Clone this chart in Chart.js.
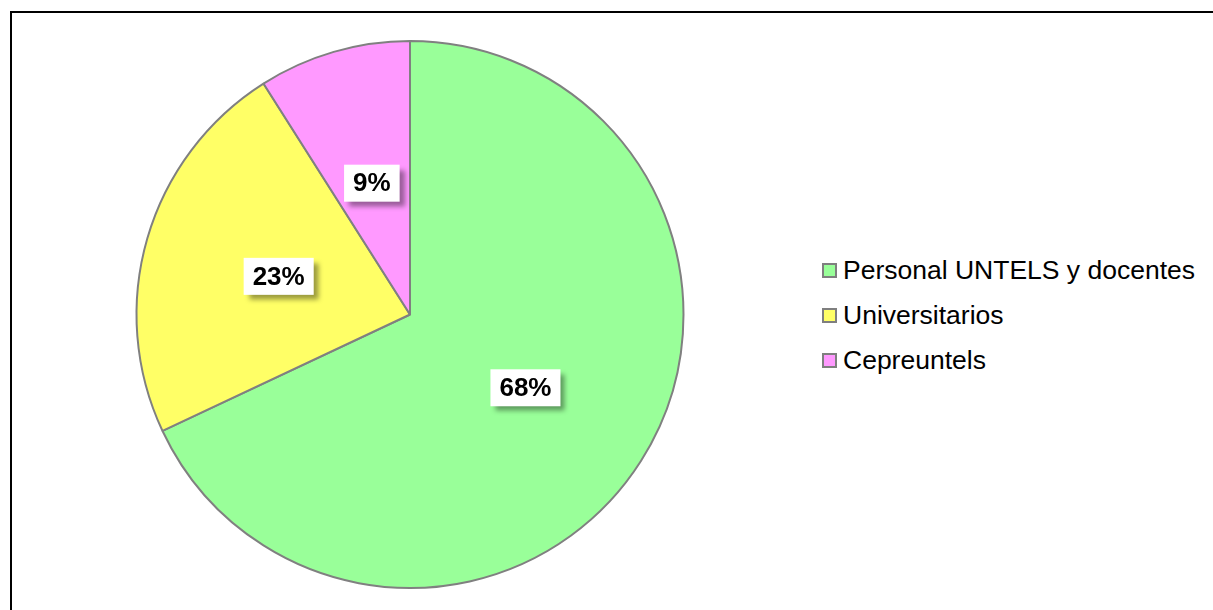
<!DOCTYPE html>
<html>
<head>
<meta charset="utf-8">
<script src="https://cdn.jsdelivr.net/npm/chart.js@4"></script>
<style>
    body { margin: 0; background: #fff; overflow: hidden; width: 1213px; height: 610px; position: relative; }
    #frame { position: absolute; left: 10px; top: 11px; width: 1300px; height: 700px; border: 2px solid #000; }
    #chart-box { position: absolute; left: 0; top: 0; width: 820px; height: 610px; }
    #legend { position: absolute; left: 822px; top: 248px; font-family: "Liberation Sans", Arial, sans-serif; font-size: 26.5px; color: #000; }
    #legend .row { height: 45px; line-height: 45px; display: flex; align-items: center; }
    #legend .sw { width: 11px; height: 11px; border: 2px solid #7f7f7f; margin-right: 6px; }
</style>
</head>
<body>
<div id="frame"></div>
<div id="chart-box"><canvas id="pie-chart"></canvas></div>
<div id="legend"></div>

<script>
// Chart data
const categories = ['Personal UNTELS y docentes', 'Universitarios', 'Cepreuntels'];
const shares = [68, 23, 9];
const sliceColors = ['#99FF99', '#FFFF66', '#FF99FF'];

// white boxed percent labels with a soft shadow
const percentLabels = {
    id: 'percentLabels',
    afterDatasetsDraw(chart) {
        const ctx = chart.ctx;
        const meta = chart.getDatasetMeta(0);
        ctx.save();
        ctx.font = 'bold 26px "Liberation Sans", Arial, sans-serif';
        ctx.textAlign = 'center';
        ctx.textBaseline = 'middle';
        meta.data.forEach(function (arc, i) {
            const p = arc.getCenterPoint();
            const text = shares[i] + '%';
            const w = ctx.measureText(text).width + 18;
            const h = 37;
            ctx.save();
            ctx.shadowColor = 'rgba(0, 0, 0, 0.4)';
            ctx.shadowBlur = 5;
            ctx.shadowOffsetX = 5;
            ctx.shadowOffsetY = 5;
            ctx.fillStyle = '#fff';
            ctx.fillRect(p.x - w / 2, p.y - h / 2, w, h);
            ctx.restore();
            ctx.fillStyle = '#000';
            ctx.fillText(text, p.x, p.y + 1);
        });
        ctx.restore();
    }
};

const pieCtx = document.getElementById('pie-chart').getContext('2d');
const pieChart = new Chart(pieCtx, {
    type: 'pie',
    data: {
        labels: categories,
        datasets: [{
            data: shares,
            backgroundColor: sliceColors,
            borderColor: '#808080',
            borderWidth: 2
        }]
    },
    options: {
        responsive: true,
        maintainAspectRatio: false,
        animation: false,
        layout: { padding: { top: 40, bottom: 21, left: 0, right: 0 } },
        plugins: {
            legend: { display: false },
            tooltip: { enabled: false }
        }
    },
    plugins: [percentLabels]
});

// Legend (HTML)
const legendEl = document.getElementById('legend');
categories.forEach(function (name, i) {
    const row = document.createElement('div');
    row.className = 'row';
    const sw = document.createElement('span');
    sw.className = 'sw';
    sw.style.background = sliceColors[i];
    const label = document.createElement('span');
    label.textContent = name;
    row.appendChild(sw);
    row.appendChild(label);
    legendEl.appendChild(row);
});
</script>
</body>
</html>
